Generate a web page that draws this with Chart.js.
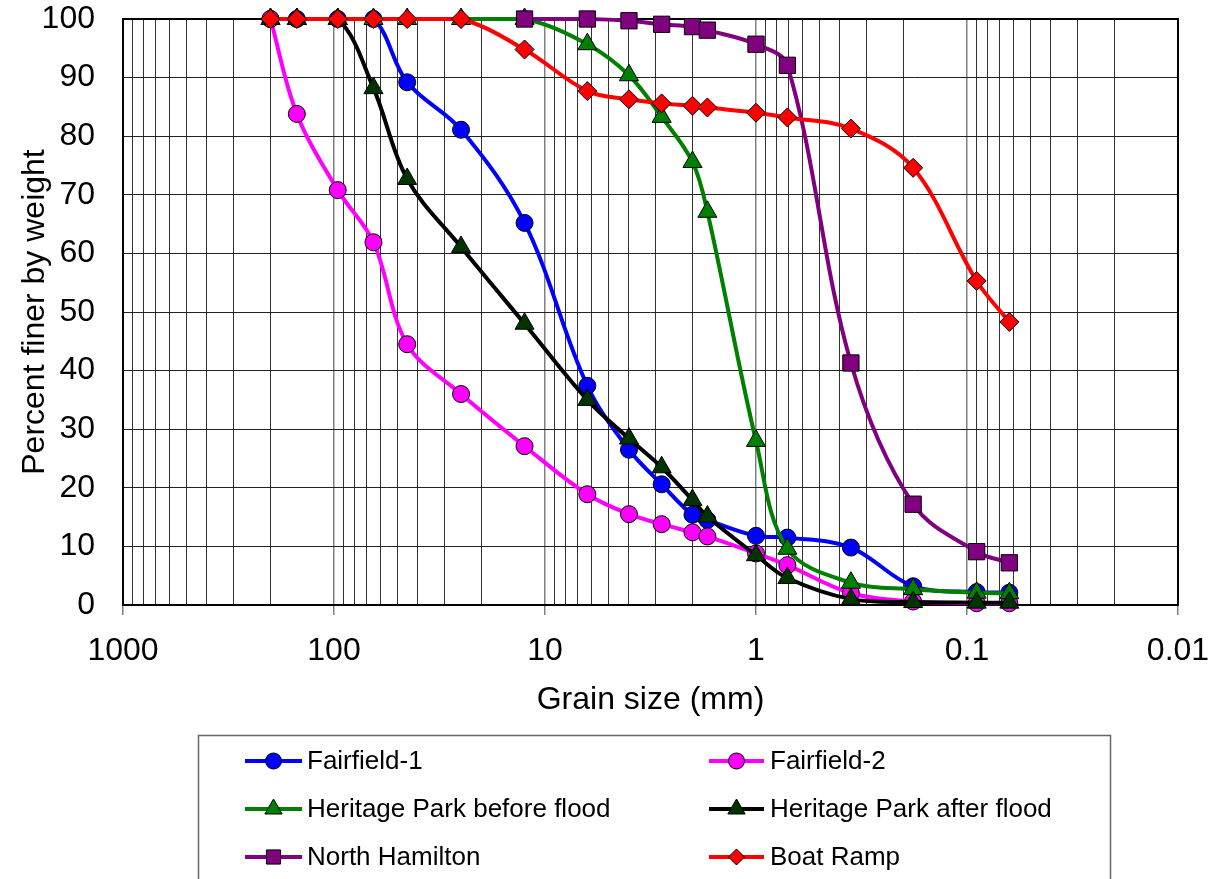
<!DOCTYPE html>
<html>
<head>
<meta charset="utf-8">
<title>Grain size distribution</title>
<script src="https://cdn.jsdelivr.net/npm/chart.js@4.4.1/dist/chart.umd.min.js"></script>
<style>
  html, body { margin: 0; padding: 0; background: #fff; }
  canvas { display: block; }
</style>
</head>
<body>
<canvas id="chart" width="1215" height="879"></canvas>
<script>
  // sieve sizes (mm)
  const sizes = [200, 150, 96, 65, 45, 25, 12.5, 6.3, 4, 2.8, 2, 1.7, 1, 0.71, 0.355, 0.18, 0.09, 0.063];

  // percent finer by weight
  const fairfield1 = [100, 100, 100, 100, 89.2, 81.1, 65.2, 37.4, 26.5, 20.6, 15.4, 14.5, 11.8, 11.5, 9.8, 3.2, 2.2, 2.1];
  const fairfield2 = [100, 83.8, 70.8, 61.9, 44.5, 36.0, 27.1, 18.9, 15.5, 13.8, 12.4, 11.7, 8.8, 6.8, 2.0, 0.6, 0.3, 0.3];
  const heritageBefore = [100, 100, 100, 100, 100, 100, 100, 95.7, 90.4, 83.3, 75.6, 67.1, 28.0, 9.6, 3.8, 2.7, 2.1, 2.0];
  const heritageAfter = [100, 100, 100, 88.2, 72.7, 61.1, 48.0, 35.0, 28.4, 23.5, 17.9, 15.1, 8.5, 4.6, 1.0, 0.5, 0.4, 0.4];
  const northHamilton = [null, null, null, null, null, null, 100, 100, 99.7, 99.1, 98.7, 98.1, 95.7, 92.1, 41.3, 17.2, 9.1, 7.2];
  const boatRamp = [100, 100, 100, 100, 100, 100, 94.8, 87.7, 86.3, 85.6, 85.2, 84.9, 84.0, 83.2, 81.3, 74.6, 55.3, 48.3];

  // axis ticks
  const xDecades = [1000, 100, 10, 1, 0.1, 0.01];
  const xMinorSteps = [2, 3, 4, 5, 6, 7, 8, 9];
  const yTicks = [0, 10, 20, 30, 40, 50, 60, 70, 80, 90, 100];

  const FONT = "'Liberation Sans', Arial, sans-serif";

  function isDecade(v) {
    const l = Math.log10(v);
    return Math.abs(l - Math.round(l)) < 1e-9;
  }

  function xTickValues() {
    const out = [];
    xDecades.forEach((d) => {
      out.push(d);
      if (d < 1000) xMinorSteps.forEach((m) => out.push(+(d * m).toPrecision(6)));
    });
    return out.sort((a, b) => a - b);
  }

  function series(label, values, color, style, fill, radius) {
    return {
      label,
      data: sizes.map((s, i) => ({ x: s, y: values[i] })),
      borderColor: color,
      backgroundColor: color,
      borderWidth: 4,
      pointStyle: style,
      pointRadius: radius,
      pointHoverRadius: radius,
      pointBackgroundColor: fill,
      pointBorderColor: "#000",
      pointBorderWidth: 1,
      tension: 0.35,
      clip: false,
    };
  }

  const datasets = [
    series("Fairfield-1", fairfield1, "#0000FF", "circle", "#0000FF", 8.5),
    series("Fairfield-2", fairfield2, "#FF00FF", "circle", "#FF00FF", 8.5),
    series("Heritage Park before flood", heritageBefore, "#008000", "triangle", "#008000", 11),
    series("Heritage Park after flood", heritageAfter, "#000000", "triangle", "#003300", 11),
    series("North Hamilton", northHamilton, "#800080", "rect", "#800080", 11.5),
    series("Boat Ramp", boatRamp, "#FF0000", "rectRot", "#FF0000", 9.5),
  ];
  // later series drawn on top, like the original
  datasets.forEach((d, i) => { d.order = datasets.length - 1 - i; });

  function marker(ctx, style, x, y, r) {
    ctx.beginPath();
    if (style === "circle") {
      ctx.arc(x, y, r, 0, Math.PI * 2);
    } else if (style === "triangle") {
      ctx.moveTo(x, y - r);
      ctx.lineTo(x + r * 0.866, y + r * 0.5);
      ctx.lineTo(x - r * 0.866, y + r * 0.5);
      ctx.closePath();
    } else if (style === "rect") {
      const s = r * Math.SQRT1_2;
      ctx.rect(x - s, y - s, 2 * s, 2 * s);
    } else {
      ctx.moveTo(x, y - r);
      ctx.lineTo(x + r, y);
      ctx.lineTo(x, y + r);
      ctx.lineTo(x - r, y);
      ctx.closePath();
    }
    ctx.fill();
    ctx.stroke();
  }

  const frame = {
    id: "frame",
    beforeDatasetsDraw(chart) {
      const { ctx, chartArea: a } = chart;
      ctx.save();
      ctx.strokeStyle = "#000";
      ctx.lineWidth = 2;
      ctx.strokeRect(a.left, a.top, a.right - a.left, a.bottom - a.top);
      ctx.restore();
    },
  };

  const boxLegend = {
    id: "boxLegend",
    afterDraw(chart) {
      const { ctx } = chart;
      ctx.save();
      ctx.strokeStyle = "#666";
      ctx.lineWidth = 1.5;
      ctx.strokeRect(198.5, 735.5, 912, 200);
      const cols = [{ x1: 245, x2: 302, tx: 307 }, { x1: 709, x2: 764, tx: 770 }];
      const rows = [761, 809, 857];
      ctx.font = "26px " + FONT;
      ctx.textBaseline = "middle";
      chart.data.datasets.forEach((d, i) => {
        const c = cols[i % 2];
        const y = rows[Math.floor(i / 2)];
        ctx.strokeStyle = d.borderColor;
        ctx.lineWidth = 4;
        ctx.beginPath();
        ctx.moveTo(c.x1, y);
        ctx.lineTo(c.x2, y);
        ctx.stroke();
        ctx.fillStyle = d.pointBackgroundColor;
        ctx.strokeStyle = "#000";
        ctx.lineWidth = 1;
        const r = d.pointStyle === "triangle" ? 10 : d.pointStyle === "rect" ? 10 : 8;
        marker(ctx, d.pointStyle, (c.x1 + c.x2) / 2, y, r);
        ctx.fillStyle = "#000";
        ctx.fillText(d.label, c.tx, y + 1);
      });
      ctx.restore();
    },
  };

  new Chart(document.getElementById("chart"), {
    type: "line",
    data: { datasets },
    plugins: [frame, boxLegend],
    options: {
      responsive: false,
      devicePixelRatio: 1,
      animation: false,
      events: [],
      layout: { padding: { top: 19, right: 37, bottom: 154, left: 0 } },
      plugins: { legend: { display: false }, tooltip: { enabled: false } },
      scales: {
        x: {
          type: "logarithmic",
          reverse: true,
          min: 0.01,
          max: 1000,
          afterFit(scale) { scale.height = 120; scale.paddingLeft = 0; scale.paddingRight = 0; },
          afterBuildTicks(scale) { scale.ticks = xTickValues().map((v) => ({ value: v })); },
          ticks: {
            autoSkip: false,
            maxRotation: 0,
            padding: 17,
            color: "#000",
            font: { family: FONT, size: 32 },
            callback: (v) => (isDecade(v) ? String(v) : ""),
          },
          grid: {
            drawTicks: true,
            tickLength: 10,
            lineWidth: (c) => (c.tick && isDecade(c.tick.value) ? 1.5 : 1),
            color: (c) => (c.tick && isDecade(c.tick.value) ? "#808080" : "#333"),
            tickColor: (c) => (c.tick && isDecade(c.tick.value) ? "#808080" : "rgba(0,0,0,0)"),
          },
          border: { display: false },
          title: {
            display: true,
            text: "Grain size (mm)",
            color: "#000",
            font: { family: FONT, size: 32 },
            padding: { top: 0, bottom: 6 },
          },
        },
        y: {
          type: "linear",
          min: 0,
          max: 100,
          afterFit(scale) { scale.width = 123; scale.paddingTop = 0; scale.paddingBottom = 0; },
          afterBuildTicks(scale) { scale.ticks = yTicks.map((v) => ({ value: v })); },
          ticks: {
            padding: 28,
            color: "#000",
            font: { family: FONT, size: 32 },
          },
          grid: { drawTicks: false, color: "#222", lineWidth: 1 },
          border: { display: false },
          title: {
            display: true,
            text: "Percent finer by weight",
            color: "#000",
            font: { family: FONT, size: 32 },
            padding: { top: 16, bottom: 0 },
          },
        },
      },
    },
  });
</script>
</body>
</html>
